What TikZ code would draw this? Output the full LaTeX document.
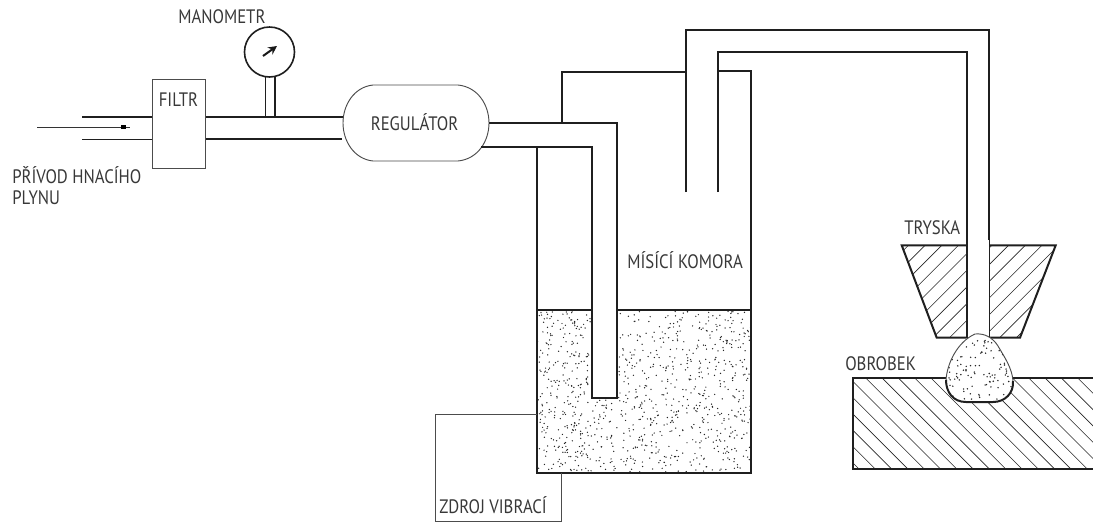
\documentclass[tikz,border=0pt]{standalone}
\usepackage{fontspec}
\setmainfont[FakeStretch=0.86]{PT Sans}
\usetikzlibrary{arrows.meta}
\begin{document}
\begin{tikzpicture}[x=0.75pt,y=-0.75pt,
  heavy/.style={line width=1.5pt,black!88,line join=miter},
  pipeline/.style={line width=1.45pt,black!88},
  thin box/.style={line width=0.7pt,black!70},
  hatchline/.style={line width=0.45pt,black!85},
  lbl/.style={inner sep=0pt,text=black!78,font=\fontsize{14.6pt}{16pt}\selectfont,align=left}]
\useasboundingbox (0,0) rectangle (1093,522);
% stipple in the tank
\begin{scope}
\clip (537,310) rectangle (751,473);
\pgfmathsetseed{4242}
\foreach \i in {1,...,1000}{
  \pgfmathsetmacro{\px}{537+214*rnd}
  \pgfmathsetmacro{\py}{311+161*rnd}
  \fill[black!85] (\px,\py) circle[radius=0.72];
}
\end{scope}
% tube interior in tank
\fill[white] (591.7,305) rectangle (616.7,398);
% inlet
\coordinate (inA) at (82,117.4); \coordinate (inB) at (82,139.5);
\coordinate (arrA) at (37,127); \coordinate (arrB) at (130,127);
\node[draw,thin box,minimum width=39.75pt,minimum height=66.75pt,inner sep=0pt,anchor=north west] (filtr) at (152,79) {};
\node[lbl,anchor=west] (filtrL) at (158.5,100) {FILTR};
\draw[pipeline] (inA) -- (inA -| filtr.west);
\draw[pipeline] (inB) -- (inB -| filtr.west);
\draw[line width=0.6pt,black!80] (arrA) -- (arrB);
\fill[black] (121,125.4) rectangle (126,128.6);
% manometer
\node[draw,circle,line width=1.2pt,black!88,minimum size=37.5pt,inner sep=0pt] (gauge) at (269.5,52) {};
\draw[pipeline] (265.5,77) -- (265.5,117);
\draw[pipeline] (275,77) -- (275,117);
\draw[line width=1.5pt,black!90,-{Stealth[length=6.5pt,width=6.5pt]}] (263,56) -- (277,46);
\node[lbl,anchor=west] (manoL) at (178,17) {MANOMETR};
% regulator
\coordinate (regW) at (344,117.4);
\coordinate (regW2) at (342,138.6);
\draw[pipeline] (filtr.east |- regW) -- (regW);
\draw[pipeline] (filtr.east |- regW2) -- (regW2);
\draw[thin box,fill=white] (373,85) -- (458,85) .. controls (478,87) and (489,105) .. (489,123)
  .. controls (489,141) and (478,159) .. (458,161) -- (373,161)
  .. controls (354,159) and (343,141) .. (343,123) .. controls (343,105) and (354,87) .. (373,85) -- cycle;
\node[lbl,anchor=center] (regL) at (414.5,122) {REGULÁTOR};
% powder feed tube and chamber
\draw[heavy] (489,123.3) -- (616.7,123.3) -- (616.7,398) -- (591.7,398) -- (591.7,146.7) -- (481,146.7);
\draw[heavy] (536.5,146.7) -- (536.5,473) -- (751,473) -- (751,71) -- (718,71);
\draw[heavy] (536.5,309.5) -- (591.7,309.5);
\draw[heavy] (616.7,309.5) -- (751,309.5);
\draw[heavy] (561.5,123.3) -- (561.5,72) -- (686,72);
% output pipe
\draw[heavy] (686,192) -- (686,30) -- (989.3,30) -- (989.3,338);
\draw[heavy] (718,192) -- (718,52) -- (966.7,52) -- (966.7,338);
\node[lbl,anchor=west] (misL) at (627,260) {MÍSÍCÍ KOMORA};
% vibration source
\draw[thin box] (536.5,414.5) -- (435,414.5) -- (435,521) -- (561.5,521) -- (561.5,473);
\node[lbl,anchor=west] (zdrL) at (439,505) {ZDROJ VIBRACÍ};
\node[lbl,anchor=north west] (privL) at (12,166) {PŘÍVOD HNACÍHO\\PLYNU};
% nozzle
\begin{scope}
\clip (901.7,245.3) -- (1055.7,245.3) -- (1020,337.7) -- (936.7,337.7) -- cycle;
\foreach \k in {0,...,19}{
  \draw[hatchline] ({797+16.7*\k},340) -- ({797+16.7*\k+100},240);
}
\end{scope}
\fill[white] (967.5,240) rectangle (988.5,339);
\draw[heavy] (966.7,245.3) -- (901.7,245.3) -- (936.7,337.7) -- (966.7,337.7);
\draw[heavy] (989.3,245.3) -- (1055.7,245.3) -- (1020,337.7) -- (989.3,337.7);
\node[lbl,anchor=west] (trL) at (904,228) {TRYSKA};
% workpiece
\begin{scope}
\clip (853.3,377.7) rectangle (1093,469.3);
\foreach \k in {0,...,24}{
  \draw[hatchline] ({743.7+16.3*\k},370) -- ({743.7+16.3*\k+110},480);
}
\end{scope}
\draw[heavy] (1093,377.7) -- (853.3,377.7) -- (853.3,469.3) -- (1093,469.3);
\node[lbl,anchor=west] (obrL) at (845,364) {OBROBEK};
% deposit blob
\def\blob{(975,334) .. controls (985,333) and (993,338) .. (998,346) .. controls (1005,358) and (1012,368) .. (1013,381) .. controls (1014,393) and (1005,402) .. (993,402) -- (966,402) .. controls (953,402) and (946,392) .. (946,380) .. controls (947,364) and (957,342) .. (975,334) -- cycle}
\fill[white] \blob;
\begin{scope}
\clip \blob;
\pgfmathsetseed{777}
\foreach \i in {1,...,110}{
  \pgfmathsetmacro{\px}{948+63*rnd}
  \pgfmathsetmacro{\py}{338+62*rnd}
  \fill[black!85] (\px,\py) circle[radius=0.8];
}
\end{scope}
\draw[line width=0.7pt,black!70] (946,380) .. controls (947,364) and (957,342) .. (975,334) .. controls (985,333) and (993,338) .. (998,346) .. controls (1005,358) and (1012,368) .. (1013,381);
\draw[heavy] (1013,381) .. controls (1014,393) and (1005,402) .. (993,402) -- (966,402) .. controls (953,402) and (946,392) .. (946,380);
\end{tikzpicture}
\end{document}
